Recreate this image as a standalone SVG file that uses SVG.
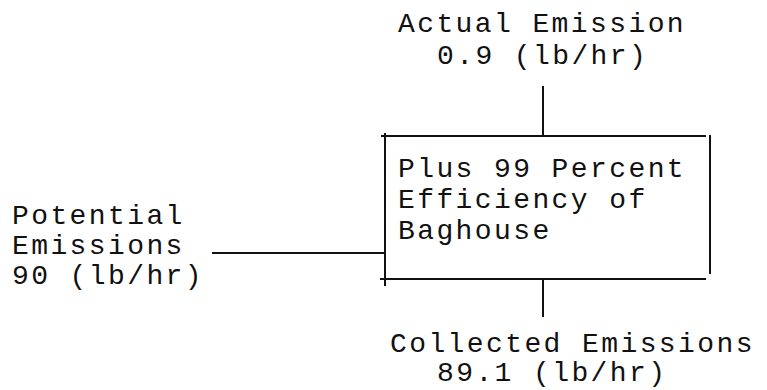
<svg xmlns="http://www.w3.org/2000/svg" width="767" height="390" viewBox="0 0 767 390">
  <style>
    .t { font-family: "Liberation Mono", "Courier New", monospace; font-size: 28px; letter-spacing: 2.4px; fill: #111; }
    .ln { stroke: #111; stroke-width: 2; fill: none; }
  </style>
  <rect width="767" height="390" fill="#fff"/>
  <g id="baghouse">
    <line class="ln" x1="385" y1="133" x2="385" y2="286"/>
    <line class="ln" x1="381" y1="136" x2="706" y2="136"/>
    <line class="ln" x1="710" y1="135" x2="710" y2="274"/>
    <line class="ln" x1="380" y1="279" x2="706" y2="279"/>
    <text class="t" x="398" y="177">Plus 99 Percent</text>
    <text class="t" x="398" y="208">Efficiency of</text>
    <text class="t" x="398" y="239">Baghouse</text>
  </g>
  <g id="potential">
    <text class="t" x="12" y="224">Potential</text>
    <text class="t" x="12" y="254">Emissions</text>
    <text class="t" x="12" y="284">90 (lb/hr)</text>
  </g>
  <g id="actual">
    <text class="t" x="398" y="32">Actual Emission</text>
    <text class="t" x="437" y="64">0.9 (lb/hr)</text>
  </g>
  <g id="collected">
    <text class="t" x="390" y="352">Collected Emissions</text>
    <text class="t" x="437" y="381">89.1 (lb/hr)</text>
  </g>
  <g id="connectors">
    <line class="ln" x1="212" y1="253" x2="385" y2="253"/>
    <line class="ln" x1="543" y1="86" x2="543" y2="136"/>
    <line class="ln" x1="543" y1="279" x2="543" y2="317" stroke-width="3"/>
  </g>
</svg>
